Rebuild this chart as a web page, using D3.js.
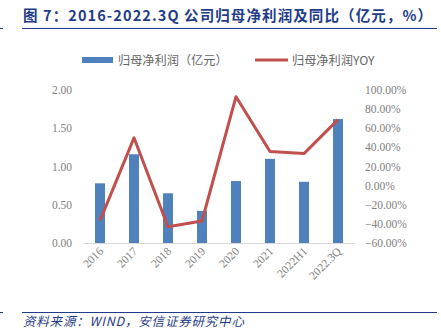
<!DOCTYPE html>
<html><head><meta charset="utf-8">
<script src="https://cdn.jsdelivr.net/npm/d3@7"></script>
<style>body{margin:0;background:#fff}svg{display:block}</style>
</head><body>
<svg id="c" width="441" height="329"></svg>
<script>
const categories = ["2016","2017","2018","2019","2020","2021","2022H1","2022.3Q"];
const profit = [0.78,1.16,0.65,0.42,0.81,1.10,0.80,1.62];
const yoy = [-36.6,50,-43,-37,93,35.6,33.5,69];
const leftTicks = [0,0.5,1,1.5,2];
const rightTicks = [-60,-40,-20,0,20,40,60,80,100];

const svg = d3.select("#c");
const navy = "#1f3c88";
// title
svg.append("text").attr("x",23).attr("y",21).attr("fill",navy)
  .attr("font-family","'Noto Sans CJK SC',sans-serif").attr("font-weight","bold").attr("font-size",14.5)
  .attr("letter-spacing",1.1)
  .text("图 7：2016-2022.3Q 公司归母净利润及同比（亿元，%）");
svg.append("line").attr("x1",22).attr("x2",437).attr("y1",28.5).attr("y2",28.5).attr("stroke",navy).attr("stroke-width",1.2);
svg.append("line").attr("x1",0).attr("x2",3).attr("y1",28.5).attr("y2",28.5).attr("stroke",navy).attr("stroke-width",1);
svg.append("line").attr("x1",22).attr("x2",437).attr("y1",312.5).attr("y2",312.5).attr("stroke",navy).attr("stroke-width",1.2);
svg.append("line").attr("x1",0).attr("x2",3).attr("y1",312.5).attr("y2",312.5).attr("stroke",navy).attr("stroke-width",1);
svg.append("text").attr("x",23).attr("y",326).attr("fill",navy)
  .attr("font-family","'Noto Sans CJK SC',sans-serif").attr("font-style","italic").attr("font-size",12.5)
  .attr("letter-spacing",0.8)
  .text("资料来源：WIND，安信证券研究中心");

const xc = d3.scalePoint().domain(categories).range([83+17,355-17]);
const yL = d3.scaleLinear().domain([0,2]).range([243,90]);
const yR = d3.scaleLinear().domain([-60,100]).range([243,90]);
const gray = "#808080";
const numFont = "'Liberation Serif',serif";

leftTicks.forEach(t=>{
  svg.append("text").attr("x",72).attr("y",yL(t)+4).attr("text-anchor","end")
    .attr("font-family",numFont).attr("font-size",11.5).attr("fill",gray).text(d3.format(".2f")(t));
});
rightTicks.forEach(t=>{
  svg.append("text").attr("x",365).attr("y",yR(t)+4).attr("text-anchor","start")
    .attr("font-family",numFont).attr("font-size",11.5).attr("fill",gray).text(d3.format(".2f")(t)+"%");
});

// bars
svg.selectAll("rect.bar").data(profit).enter().append("rect").attr("class","bar")
  .attr("x",(d,i)=>xc(categories[i])-5).attr("width",10)
  .attr("y",d=>yL(d)).attr("height",d=>yL(0)-yL(d)).attr("fill","#4f81bd");

// x axis line
svg.append("line").attr("x1",83).attr("x2",355).attr("y1",243.5).attr("y2",243.5).attr("stroke","#d9d9d9").attr("stroke-width",1);

// line
const line = d3.line().x((d,i)=>xc(categories[i])).y(d=>yR(d));
svg.append("path").datum(yoy).attr("d",line).attr("fill","none").attr("stroke","#c0504d").attr("stroke-width",3).attr("stroke-linejoin","round");

// x labels
categories.forEach(c=>{
  svg.append("text").attr("transform",`translate(${xc(c)+4},${252}) rotate(-45)`)
    .attr("text-anchor","end").attr("font-family",numFont).attr("font-size",11.5).attr("fill",gray).text(c);
});

// legend
const legFont = "'Noto Sans CJK SC',sans-serif";
svg.append("rect").attr("x",82).attr("y",57).attr("width",31).attr("height",6).attr("fill","#4f81bd");
svg.append("text").attr("x",118).attr("y",64.5).attr("font-family",legFont).attr("font-size",12.2).attr("fill","#666").text("归母净利润（亿元）");
svg.append("line").attr("x1",255).attr("x2",288).attr("y1",60).attr("y2",60).attr("stroke","#c0504d").attr("stroke-width",3);
svg.append("text").attr("x",292).attr("y",64.5).attr("font-family",legFont).attr("font-size",12.2).attr("fill","#666").text("归母净利润YOY");
</script>
</body></html>
